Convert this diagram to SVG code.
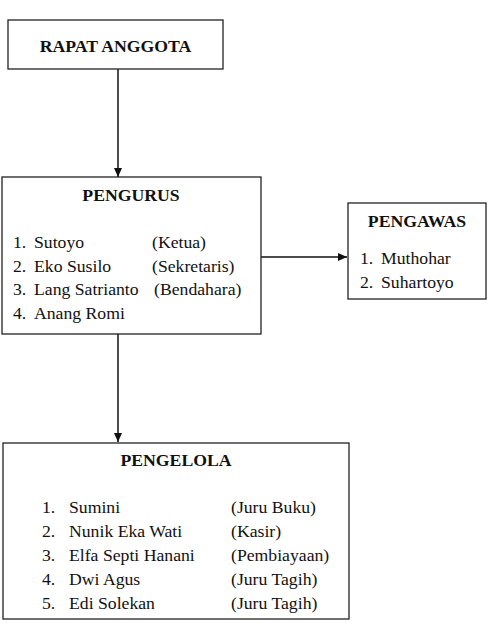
<svg xmlns="http://www.w3.org/2000/svg" width="488" height="635" viewBox="0 0 488 635">
<style>
.box{fill:#fff;stroke:#222;stroke-width:1.3}
.c{stroke:#111;stroke-width:1.5;fill:none}
</style>
<defs>
<marker id="ah" markerWidth="10" markerHeight="10" refX="9" refY="5" orient="auto" markerUnits="userSpaceOnUse">
<path d="M0,1 L9,5 L0,9 Z" fill="#111"/>
</marker>
</defs>
<rect width="488" height="635" fill="#fff"/>
<g id="connectors">
<line class="c" x1="118" y1="69" x2="118" y2="177" marker-end="url(#ah)"/>
<line class="c" x1="261" y1="257" x2="347" y2="257" marker-end="url(#ah)"/>
<line class="c" x1="118" y1="334" x2="118" y2="442" marker-end="url(#ah)"/>
</g>
<g font-family="Liberation Serif, Times New Roman, serif" font-size="17.7" fill="#111">
<g id="rapat">
<rect class="box" x="8" y="20" width="215" height="49"/>
<text font-weight="bold" x="115.5" y="52" text-anchor="middle">RAPAT ANGGOTA</text>
</g>
<g id="pengurus">
<rect class="box" x="2" y="177" width="259" height="157"/>
<text font-weight="bold" x="131" y="201" text-anchor="middle">PENGURUS</text>
<text x="13" y="248">1.</text><text x="34" y="248">Sutoyo</text><text x="152" y="248">(Ketua)</text>
<text x="13" y="272">2.</text><text x="34" y="272">Eko Susilo</text><text x="152" y="272">(Sekretaris)</text>
<text x="13" y="295">3.</text><text x="34" y="295">Lang Satrianto</text><text x="154" y="295">(Bendahara)</text>
<text x="13" y="319">4.</text><text x="34" y="319">Anang Romi</text>
</g>
<g id="pengawas">
<rect class="box" x="348" y="203" width="138" height="96"/>
<text font-weight="bold" x="417" y="227" text-anchor="middle">PENGAWAS</text>
<text x="360" y="264">1.</text><text x="381" y="264">Muthohar</text>
<text x="360" y="288">2.</text><text x="381" y="288">Suhartoyo</text>
</g>
<g id="pengelola">
<rect class="box" x="3" y="443" width="346" height="176"/>
<text font-weight="bold" x="176" y="466" text-anchor="middle">PENGELOLA</text>
<text x="42" y="513">1.</text><text x="69" y="513">Sumini</text><text x="231" y="513">(Juru Buku)</text>
<text x="42" y="537">2.</text><text x="69" y="537">Nunik Eka Wati</text><text x="231" y="537">(Kasir)</text>
<text x="42" y="561">3.</text><text x="69" y="561">Elfa Septi Hanani</text><text x="231" y="561">(Pembiayaan)</text>
<text x="42" y="585">4.</text><text x="69" y="585">Dwi Agus</text><text x="231" y="585">(Juru Tagih)</text>
<text x="42" y="609">5.</text><text x="69" y="609">Edi Solekan</text><text x="231" y="609">(Juru Tagih)</text>
</g>
</g>
</svg>
